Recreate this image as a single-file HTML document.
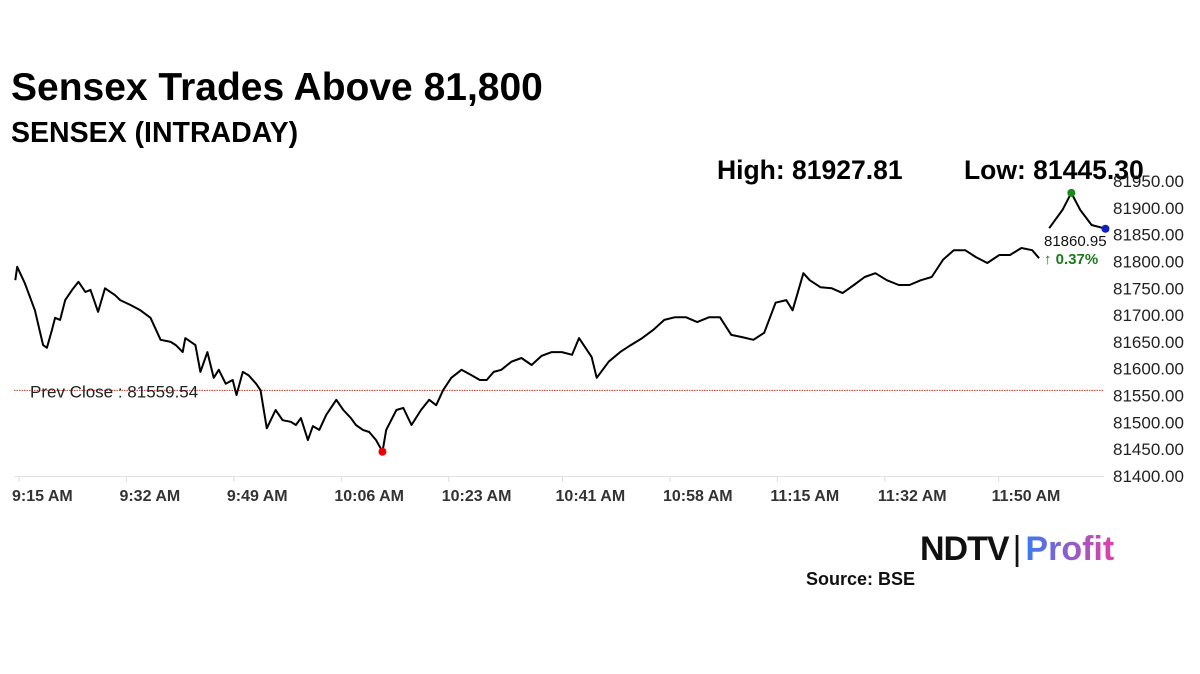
<!DOCTYPE html>
<html><head><meta charset="utf-8"><style>
body{margin:0;background:#fff;width:1200px;height:674px;overflow:hidden;font-family:"Liberation Sans",sans-serif}
.t{position:absolute;white-space:nowrap}
</style></head><body>
<div class="t" style="left:11px;top:66px;font-size:39px;font-weight:bold;color:#000">Sensex Trades Above 81,800</div>
<div class="t" style="left:11px;top:117px;font-size:28.5px;font-weight:bold;color:#000">SENSEX (INTRADAY)</div>
<div class="t" style="left:717px;top:155px;font-size:26.5px;font-weight:bold;color:#000">High: 81927.81</div>
<div class="t" style="left:964px;top:155px;font-size:26.5px;font-weight:bold;color:#000">Low: 81445.30</div>
<svg id="chart" width="1200" height="674" style="position:absolute;left:0;top:0"></svg>
<div class="t" style="left:920px;top:530px;font-size:34px;font-weight:bold"><span style="color:#111;letter-spacing:-1px">NDTV</span><span style="color:#111;font-weight:normal;margin:0 4px">|</span><span style="background:linear-gradient(90deg,#3a7bf0,#e23fa8);-webkit-background-clip:text;color:transparent">Profit</span></div>
<div class="t" style="left:806px;top:569px;font-size:18px;font-weight:bold;color:#111">Source: BSE</div>
<script>
const times=[0.2,0.5,1.7,3.3,4.6,5.2,6.0,6.5,7.3,8.1,9.2,10.2,11.3,12.1,13.3,14.4,16.0,16.8,18.4,20.0,21.6,23.2,24.8,25.6,26.7,27.1,28.7,29.5,30.6,31.6,32.4,33.5,34.6,35.2,36.2,37.1,38.3,39.0,40.0,41.4,42.5,43.8,44.6,45.4,46.5,47.3,48.3,49.4,51.0,52.1,53.3,54.1,55.2,56.2,57.3,58.3,58.9,60.5,61.6,62.9,64.4,65.7,66.8,67.9,69.2,70.8,72.4,73.7,74.8,75.9,77.1,78.7,80.3,81.9,83.5,85.1,86.7,88.3,89.4,91.4,92.2,94.1,95.9,97.6,99.4,101.1,102.9,104.6,106.3,108.1,110.0,111.7,113.5,115.2,117.0,118.7,120.5,122.2,123.2,124.9,125.9,127.6,129.4,131.1,132.9,134.6,136.3,138.1,140.0,141.7,143.5,145.2,147.0,148.7,150.5,152.2,154.0,155.9,157.6,159.4,161.1,162.2,163.0,163.8,165.9,167.3,168.7,170.5,172.7];
const values=[81765,81790,81760,81709,81644,81639,81672,81695,81691,81728,81747,81762,81743,81747,81706,81750,81737,81728,81719,81709,81695,81654,81650,81644,81631,81657,81644,81594,81631,81583,81598,81572,81579,81551,81594,81588,81572,81560,81489,81523,81504,81501,81495,81508,81467,81493,81486,81514,81542,81523,81508,81495,81486,81482,81467,81445.3,81486,81523,81527,81495,81523,81542,81532,81560,81583,81598,81588,81579,81579,81594,81598,81613,81620,81607,81624,81631,81631,81626,81657,81622,81583,81613,81631,81644,81657,81672,81691,81696,81696,81687,81696,81696,81663,81659,81654,81667,81723,81728,81709,81778,81765,81752,81750,81741,81756,81771,81778,81765,81756,81756,81765,81771,81803,81821,81821,81808,81797,81812,81812,81825,81821,81806,null,81862,81896,81927.81,81896,81868,81860.95];
const xTicks=[0,17,34,51,68,86,103,120,137,155];
const xTickLabels=["9:15 AM","9:32 AM","9:49 AM","10:06 AM","10:23 AM","10:41 AM","10:58 AM","11:15 AM","11:32 AM","11:50 AM"];
const yTicks=[81400,81450,81500,81550,81600,81650,81700,81750,81800,81850,81900,81950];
const prevClose=81559.54;
const lastValue=81860.95;
const changePct=0.37;
const lowValue=81445.3, highValue=81927.81;

const NS="http://www.w3.org/2000/svg";
const svg=document.getElementById('chart');
const X=t=>14+t*6.32;
const Y=v=>476-(v-81400)*0.5364;
function mk(tag,attrs,text){const e=document.createElementNS(NS,tag);for(const k in attrs)e.setAttribute(k,attrs[k]);if(text!==undefined)e.textContent=text;svg.appendChild(e);return e;}

const axis=mk('line',{x1:14,x2:1104,y1:476.5,y2:476.5,stroke:'#e4e4e4','stroke-width':1});


yTicks.forEach(v=>{
  const e=mk('text',{x:1113,y:Y(v)+6,'font-size':17,fill:'#222','font-family':'Liberation Sans'},v.toFixed(2));
  
  
});
xTicks.forEach((t,i)=>{
  const tk=mk('line',{x1:X(t)+5,x2:X(t)+5,y1:476,y2:482,stroke:'#ddd','stroke-width':1});
  
  
  const e=mk('text',{x:X(t)-2,y:501,'font-size':16,'font-weight':'bold',fill:'#333','font-family':'Liberation Sans'},xTickLabels[i]);
  
  
});
const pc=mk('line',{x1:14,x2:1104,y1:Y(prevClose),y2:Y(prevClose),stroke:'#c0392b','stroke-width':1,'stroke-dasharray':'1.5,1'});


const pcl=mk('text',{x:30,y:Y(prevClose)+7,'font-size':17,fill:'#222','font-family':'Liberation Sans'},'Prev Close : '+prevClose.toFixed(2));



let d='',pen=false;
times.forEach((t,i)=>{const v=values[i];if(v===null){pen=false;return;}d+=(pen?'L':'M')+X(t).toFixed(1)+','+Y(v).toFixed(1);pen=true;});
const line=mk('path',{d:d,fill:'none',stroke:'#000','stroke-width':2,'stroke-linejoin':'round'});



const li=values.indexOf(lowValue), hi=values.indexOf(highValue), la=values.length-1;
const lowDot=mk('circle',{cx:X(times[li]),cy:Y(lowValue),r:4,fill:'#e00'});


const highDot=mk('circle',{cx:X(times[hi]),cy:Y(highValue),r:4,fill:'#1a8a1a'});


const lastDot=mk('circle',{cx:X(times[la]),cy:Y(values[la]),r:4,fill:'#1020c0'});


const lv=mk('text',{x:1044,y:246,'font-size':15,fill:'#111','font-family':'Liberation Sans'},lastValue.toFixed(2));


const cp=mk('text',{x:1044,y:264,'font-size':15,'font-weight':'bold',fill:'#1a7a1a','font-family':'Liberation Sans'},'\u2191 '+changePct.toFixed(2)+'%');


</script>
</body></html>
